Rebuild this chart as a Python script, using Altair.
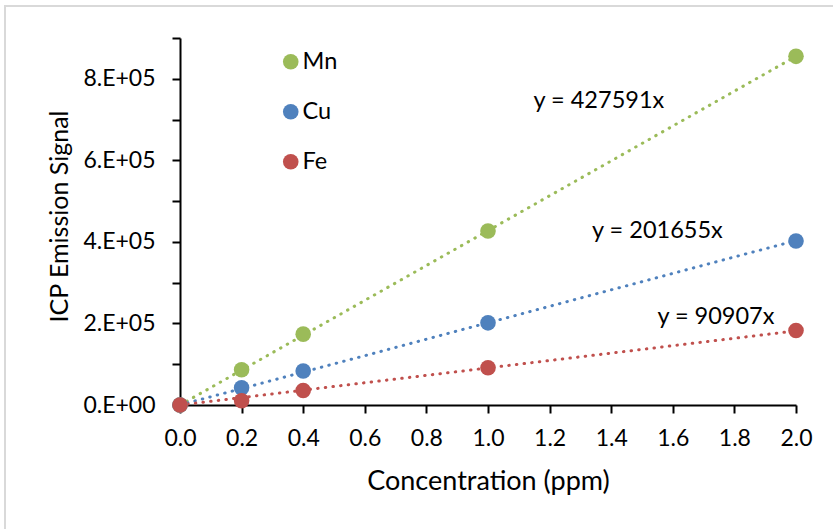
import altair as alt
import pandas as pd

# Calibration standards (ppm) and measured ICP emission signals
conc = [0.0, 0.2, 0.4, 1.0, 2.0]
metals = ["Mn", "Cu", "Fe"]
mn_signal = [0, 86400, 173800, 426700, 855000]
cu_signal = [0, 42400, 83200, 201500, 402200]
fe_signal = [0, 10500, 35700, 91300, 182600]

# Zero-intercept linear fits
slopes = [427591, 201655, 90907]
colors = ["#9BBB59", "#4F81BD", "#C0504D"]

# Where the fit equations are written (data units)
eq_x = [1.36, 1.55, 1.74]
eq_y = [745000, 426000, 216000]

FONT = "Lato"
TICK_FS = 23
XTITLE_FS = 27
YTITLE_FS = 25
EQ_FS = 23.5
LEG_FS = 23.5
MARK_SIZE = 243

rows = []
for m, sig in zip(metals, [mn_signal, cu_signal, fe_signal]):
    for c, s in zip(conc, sig):
        rows.append({"metal": m, "conc": c, "signal": s})
points = pd.DataFrame(rows)

trend = pd.DataFrame(
    [{"metal": m, "conc": c, "signal": k * c} for m, k in zip(metals, slopes) for c in (conc[0], conc[-1])]
)

eqs = pd.DataFrame(
    {"metal": metals, "x": eq_x, "y": eq_y, "label": [f"y = {k}x" for k in slopes]}
)

x_ticks = [round(i * 0.1, 1) for i in range(21)]
y_ticks = [i * 100000 for i in range(10)]

x_scale = alt.Scale(domain=[0, 2], nice=False, zero=True)
y_scale = alt.Scale(domain=[0, 900000], nice=False)
color_scale = alt.Scale(domain=metals, range=colors)

x_axis = alt.Axis(
    values=x_ticks,
    labelExpr="round(datum.value * 10) % 2 == 0 ? format(datum.value, '.1f') : ''",
    title="Concentration (ppm)",
    titleFontSize=XTITLE_FS,
    tickSize=8,
    labelPadding=14,
    titlePadding=18,
    labelFlush=False,
    labelOverlap=False,
    grid=False,
)
y_axis = alt.Axis(
    values=y_ticks,
    labelExpr="datum.value == 0 ? '0.E+00' : (datum.value % 200000 == 0 ? (datum.value / 100000) + '.E+05' : '')",
    title="ICP Emission Signal",
    titleFontSize=YTITLE_FS,
    titleBaseline="alphabetic",
    titleX=-113,
    titleY=178,
    tickSize=8,
    labelPadding=17,
    labelFlush=False,
    labelOverlap=False,
    grid=False,
)

# Dotted zero-intercept trend lines, one layer per metal
trend_layers = []
for m, c in zip(metals, colors):
    trend_layers.append(
        alt.Chart(trend).transform_filter(alt.datum.metal == m).mark_line(
            strokeDash=[0.5, 7.2], strokeCap="round", strokeWidth=3, color=c
        ).encode(
            x=alt.X("conc:Q", scale=x_scale, axis=x_axis),
            y=alt.Y("signal:Q", scale=y_scale, axis=y_axis),
        )
    )

dots = alt.Chart(points).mark_point(
    shape="circle", size=MARK_SIZE, filled=True, opacity=1
).encode(
    x=alt.X("conc:Q", scale=x_scale),
    y=alt.Y("signal:Q", scale=y_scale),
    color=alt.Color(
        "metal:N",
        scale=color_scale,
        sort=metals,
        legend=alt.Legend(
            title=None,
            orient="none",
            legendX=99,
            legendY=12,
            symbolType="circle",
            symbolSize=MARK_SIZE,
            symbolStrokeWidth=0,
            symbolOpacity=1,
            labelFont=FONT,
            labelFontSize=LEG_FS,
            labelColor="#000000",
            labelOffset=0,
            rowPadding=25,
            padding=0,
        ),
    ),
)

labels = alt.Chart(eqs).mark_text(
    font=FONT, fontSize=EQ_FS, color="#000000", align="center", baseline="middle"
).encode(
    x=alt.X("x:Q", scale=x_scale),
    y=alt.Y("y:Q", scale=y_scale),
    text="label:N",
)

frame = alt.Chart(eqs).mark_rect(
    filled=False, stroke="#d9d9d9", strokeWidth=2
).encode(
    x=alt.value(-175),
    y=alt.value(-32),
    x2=alt.value(700),
    y2=alt.value(520),
)

chart = alt.layer(frame, *trend_layers, dots, labels).properties(
    width=616,
    height=367,
    autosize=alt.AutoSizeParams(type="none"),
    padding={"left": 180, "top": 38, "right": 37, "bottom": 124},
    background="white",
).configure_view(
    strokeWidth=0
).configure_axis(
    labelFont=FONT,
    labelFontSize=TICK_FS,
    labelColor="#000000",
    titleFont=FONT,
    titleFontWeight="normal",
    titleColor="#000000",
    domainColor="#000000",
    domainWidth=2,
    tickColor="#000000",
    tickWidth=2,
)

chart.save("out.html", embed_options={"renderer": "svg", "actions": False})
